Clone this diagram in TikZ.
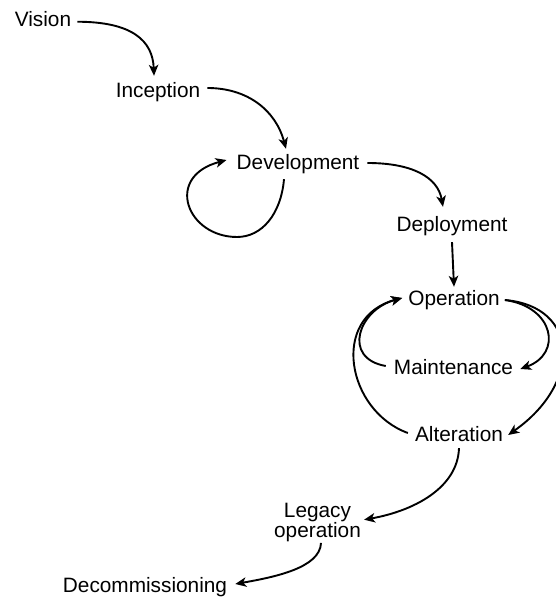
\documentclass[tikz,border=0pt]{standalone}
\usepackage{fontspec}
\setmainfont{Liberation Sans}
\usetikzlibrary{arrows.meta}
\begin{document}
\begin{tikzpicture}[x=1pt,y=1pt,
  lbl/.style={font=\fontsize{20.8}{19}\selectfont, inner sep=0pt, text height=15pt, text depth=4.5pt, anchor=base},
  conn/.style={line width=1.9pt, -{Stealth[length=11pt,width=9.5pt,inset=3pt]}}]
\fill[white] (0,0) rectangle (556,597);
\path[use as bounding box] (0,0) rectangle (556,597);

\node[lbl] (vision) at (43,570) {Vision};
\node[lbl] (inception) at (158,499) {Inception};
\node[lbl] (development) at (298,427) {Development};
\node[lbl] (deployment) at (452,365) {Deployment};
\node[lbl] (operation) at (454,291) {Operation};
\node[lbl] (maintenance) at (453.5,222) {Maintenance};
\node[lbl] (alteration) at (459,155) {Alteration};
\node[font=\fontsize{20.8}{19}\selectfont, inner sep=0pt, align=center, anchor=north] (legacy) at (317.5,94) {Legacy\\operation};
\node[lbl] (decommissioning) at (145,5) {Decommissioning};

\coordinate (devloop) at (237,360);

\draw[conn] ([xshift=6pt]vision.east) to[out=0,in=92,out distance=55pt,in distance=35pt] ([xshift=-4pt,yshift=7pt]inception.north);
\draw[conn] ([xshift=7pt,yshift=4.75pt]inception.east) to[out=0,in=105,out distance=40pt,in distance=40pt] ([xshift=-12pt,yshift=6pt]development.north);
\draw[conn] ([xshift=-14pt,yshift=-4.5pt]development.south) to[out=-95,in=0,out distance=35pt,in distance=25pt] (devloop) to[out=180,in=195,out distance=50pt,in distance=65pt] ([xshift=-10pt,yshift=4.75pt]development.west);
\draw[conn] ([xshift=8pt,yshift=1.75pt]development.east) to[out=0,in=100,out distance=45pt,in distance=30pt] ([xshift=-9pt,yshift=10pt]deployment.north);
\draw[conn] ([yshift=-5.5pt]deployment.south) -- ([yshift=4pt]operation.north);
\draw[conn] ([xshift=5pt,yshift=0.75pt]operation.east) to[out=-8,in=20,out distance=50pt,in distance=45pt] ([xshift=7pt,yshift=0.75pt]maintenance.east);
\draw[conn] ([xshift=5pt,yshift=0.75pt]operation.east) to[out=-5,in=35,out distance=75pt,in distance=90pt] ([xshift=5pt,yshift=1.75pt]alteration.east);
\draw[conn] ([xshift=-8pt,yshift=3.75pt]maintenance.west) to[out=170,in=195,out distance=45pt,in distance=45pt] ([xshift=-6pt,yshift=2.75pt]operation.west);
\draw[conn] ([xshift=-7pt,yshift=3.75pt]alteration.west) to[out=160,in=195,out distance=65pt,in distance=75pt] ([xshift=-6pt,yshift=2.75pt]operation.west);
\draw[conn] ([yshift=-1.5pt]alteration.south) to[out=-92,in=10,out distance=40pt,in distance=50pt] ([xshift=3pt,yshift=3pt]legacy.east);
\draw[conn] ([xshift=3.5pt,yshift=-0.5pt]legacy.south) to[out=-92,in=10,out distance=25pt,in distance=40pt] ([xshift=8pt,yshift=2.75pt]decommissioning.east);
\end{tikzpicture}
\end{document}
